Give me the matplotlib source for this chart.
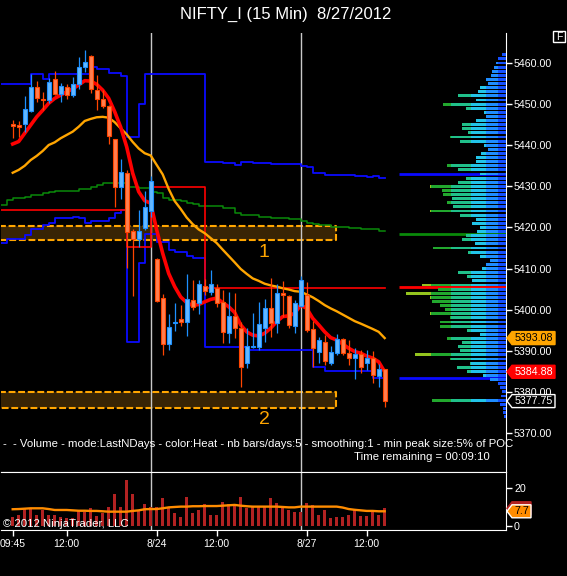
import numpy as np
import matplotlib.pyplot as plt
from matplotlib.patches import Polygon, Rectangle
from matplotlib.transforms import IdentityTransform

# Arial-like font for the NinjaTrader look
plt.rcParams['font.family'] = ['Liberation Sans', 'DejaVu Sans']

# ---------------- data (15 min bars, 8/23 09:45 -> 8/27 12:45) ----------------
opens = [5445.1, 5444.8, 5445.1, 5448.4, 5454.1, 5451.2, 5450.9, 5456.0, 5452.5, 5454.1,
         5452.1, 5454.8, 5459.0, 5461.6, 5453.4, 5451.2, 5449.5, 5441.4, 5429.9, 5433.2,
         5419.1, 5417.2, 5419.8, 5424.1, 5412.3, 5402.8, 5391.6, 5396.7, 5397.7, 5397.1,
         5402.3, 5401.6, 5405.8, 5404.4, 5405.2, 5401.8, 5394.25, 5398.5, 5395.5, 5386.95,
         5390.9, 5391.0, 5395.5, 5400.3, 5396.8, 5404.0, 5403.3, 5396.1, 5400.96, 5403.6,
         5395.2, 5389.8, 5392.2, 5387.1, 5389.5, 5392.9, 5389.4, 5388.2, 5389.2, 5386.95,
         5388.2, 5383.9, 5385.5]
highs = [5446.1, 5445.9, 5452.0, 5457.3, 5455.6, 5453.0, 5456.3, 5458.1, 5455.2, 5454.8,
         5456.5, 5461.4, 5463.2, 5461.9, 5457.1, 5453.4, 5449.8, 5441.5, 5436.7, 5434.0,
         5419.5, 5424.2, 5428.9, 5432.6, 5412.5, 5403.8, 5398.9, 5401.6, 5401.1, 5408.7,
         5407.2, 5407.2, 5407.5, 5409.65, 5406.2, 5404.8, 5404.2, 5404.1, 5397.1, 5395.5,
         5399.1, 5401.9, 5402.6, 5407.6, 5406.2, 5407.0, 5403.5, 5402.35, 5408.2, 5406.8,
         5397.3, 5393.4, 5393.8, 5391.2, 5394.0, 5393.0, 5392.6, 5390.6, 5390.2, 5390.2,
         5389.95, 5386.7, 5385.5]
lows = [5441.8, 5442.0, 5443.3, 5448.2, 5450.4, 5448.6, 5450.2, 5452.2, 5450.4, 5451.2,
        5451.7, 5453.7, 5457.9, 5452.6, 5448.6, 5449.0, 5440.4, 5425.0, 5426.9, 5410.1,
        5403.2, 5415.3, 5419.4, 5422.6, 5401.9, 5389.0, 5390.2, 5394.9, 5395.9, 5393.7,
        5399.9, 5398.9, 5403.6, 5403.6, 5400.7, 5392.0, 5392.0, 5393.0, 5381.3, 5385.7,
        5390.6, 5390.2, 5392.2, 5393.4, 5394.25, 5398.3, 5395.5, 5394.25, 5400.7, 5394.6,
        5386.1, 5387.0, 5386.5, 5386.5, 5389.0, 5389.0, 5386.5, 5383.1, 5384.7, 5385.3,
        5382.1, 5381.3, 5376.4]
closes = [5444.6, 5444.5, 5448.8, 5454.2, 5451.4, 5451.0, 5455.3, 5452.5, 5454.3, 5452.1,
          5454.8, 5459.0, 5460.2, 5453.6, 5451.2, 5449.5, 5442.2, 5429.9, 5433.4, 5419.0,
          5417.2, 5419.1, 5424.9, 5431.3, 5402.2, 5391.6, 5395.7, 5397.0, 5397.1, 5402.5,
          5400.7, 5406.2, 5404.6, 5406.2, 5401.7, 5394.6, 5398.5, 5395.6, 5386.1, 5391.2,
          5391.1, 5396.4, 5400.3, 5396.8, 5404.0, 5403.5, 5396.3, 5401.55, 5407.2, 5395.05,
          5390.6, 5392.6, 5387.6, 5389.8, 5392.9, 5389.4, 5388.2, 5389.2, 5386.1, 5388.2,
          5384.1, 5385.6, 5377.75]
volumes = [4.5, 5.7, 8.9, 9.6, 5.7, 8.4, 5.7, 5.7, 4.5, 4.0,
           4.0, 8.0, 7.5, 9.3, 5.2, 7.0, 10.2, 17.0, 9.8, 24.4,
           17.0, 8.4, 11.6, 9.8, 9.8, 14.7, 10.2, 7.0, 4.5, 15.2,
           7.0, 8.4, 11.6, 5.7, 5.7, 12.8, 11.6, 10.5, 15.2, 9.3,
           10.5, 10.5, 10.5, 14.7, 12.3, 9.3, 8.4, 7.5, 7.5, 12.0,
           11.1, 5.7, 8.4, 4.0, 4.5, 4.5, 5.7, 8.4, 5.2, 5.2,
           8.0, 5.7, 9.3]
vol_ma = [8.8, 8.9, 9.1, 9.3, 9.3, 9.3, 8.9, 8.4, 8.4, 8.4,
          8.2, 8.0, 8.0, 7.9, 7.9, 7.7, 7.5, 7.5, 7.5, 7.5,
          7.9, 8.2, 8.8, 8.9, 8.9, 9.3, 9.8, 10.0, 10.2, 10.2,
          10.4, 10.4, 10.5, 10.5, 10.5, 10.7, 10.9, 11.1, 10.7, 10.4,
          10.2, 10.2, 10.2, 10.2, 10.2, 10.0, 9.8, 9.8, 10.2, 10.2,
          10.2, 10.2, 10.2, 10.2, 10.2, 9.7, 8.9, 8.5, 8.2, 7.9,
          7.9, 7.7, 7.7]

# moving averages
ema_fast = [5440.3, 5440.9, 5442.9, 5444.9, 5446.9, 5448.5, 5450.2, 5451.4, 5452.2, 5453.0,
            5453.7, 5454.65, 5455.7, 5455.6, 5454.8, 5453.4, 5451.4, 5448.15, 5444.4, 5439.6,
            5433.2, 5428.7, 5426.5, 5425.9, 5419.4, 5413.7, 5408.8, 5405.6, 5403.1, 5401.7,
            5401.0, 5401.25, 5401.9, 5402.5, 5402.8, 5401.7, 5400.7, 5399.3, 5396.3, 5394.6,
            5393.8, 5393.6, 5394.25, 5395.5, 5397.1, 5398.3, 5398.5, 5399.1, 5401.1, 5400.3,
            5397.9, 5396.3, 5394.6, 5393.2, 5392.6, 5391.65, 5390.6, 5389.8, 5389.4, 5388.7,
            5388.2, 5387.3, 5384.88]
ma_slow = [5433.3, 5434.0, 5435.0, 5436.4, 5437.4, 5438.6, 5440.05, 5440.7, 5441.7, 5442.5,
           5443.3, 5444.5, 5445.9, 5446.4, 5446.8, 5446.9, 5446.7, 5445.6, 5444.1, 5442.65,
           5440.8, 5439.2, 5438.05, 5437.5, 5435.2, 5432.9, 5429.35, 5426.4, 5424.5, 5422.4,
           5420.8, 5419.5, 5418.6, 5417.4, 5416.2, 5414.6, 5413.05, 5411.5, 5409.9, 5408.7,
           5407.6, 5407.0, 5406.3, 5405.9, 5405.6, 5405.2, 5404.9, 5404.5, 5404.35, 5403.7,
           5403.0, 5402.1, 5401.1, 5400.3, 5399.6, 5398.8, 5398.0, 5397.2, 5396.6, 5395.95,
           5395.3, 5394.6, 5393.08]

# step lines: (level, number of bars), starting 3 bars before the first visible bar
upper_levels = [5454.8, 5457.25, 5456.0, 5457.25, 5459.1, 5458.5, 5457.5, 5456.8, 5441.9, 5450.0,
                5457.3, 5435.85, 5435.6, 5435.3, 5436.0, 5435.75, 5435.5, 5435.35, 5435.0, 5434.7,
                5433.2, 5432.8, 5432.7, 5432.4, 5432.3, 5432.5, 5432.0]
upper_counts = [6, 2, 1, 7, 1, 2, 2, 1, 2, 1, 10, 3, 2, 1, 2, 3, 2, 3, 1, 1, 2, 1, 4, 2, 1, 1, 2]
lower_levels = [5416.1, 5417.1, 5418.2, 5419.55, 5420.6, 5421.15, 5422.2, 5422.5, 5422.2, 5421.15,
                5421.6, 5422.2, 5423.4, 5424.2, 5392.1, 5411.3, 5418.3, 5416.5, 5414.5, 5414.1,
                5413.05, 5412.5, 5390.85, 5390.2, 5386.1, 5385.1, 5383.3]
lower_counts = [2, 3, 1, 2, 1, 1, 3, 1, 1, 1, 3, 1, 1, 1, 2, 1, 2, 2, 1, 2, 1, 2, 7, 11, 2, 8, 3]
green_levels = [5425.5, 5426.7, 5427.1, 5427.5, 5427.9, 5428.3, 5428.55, 5428.9, 5429.3, 5429.9,
                5430.3, 5430.7, 5430.9, 5430.7, 5429.9, 5429.5, 5428.7, 5428.3, 5427.1, 5426.7,
                5426.4, 5425.9, 5425.6, 5425.3, 5424.65, 5423.4, 5423.0, 5422.6, 5422.2, 5422.0,
                5421.6, 5421.15, 5420.8, 5420.6, 5420.2, 5419.9, 5419.6, 5419.1]
green_counts = [2, 1, 2, 1, 2, 1, 1, 4, 2, 1, 1, 1, 2, 1, 2, 2, 1, 1, 1, 2,
                1, 1, 1, 4, 2, 1, 3, 2, 3, 2, 1, 1, 1, 2, 3, 2, 3, 2]
red_levels = [5424.2, 5415.3, 5429.9, 5405.2]
red_counts = [22, 4, 9, 31]

# volume profile (last 5 days), 1 point levels
profile_prices = np.arange(5374, 5463)
profile_vol = [2, 3, 3, 6, 74, 5, 4, 6, 8, 16,
               23, 39, 49, 36, 56, 91, 46, 48, 44, 59,
               26, 39, 66, 66, 56, 76, 61, 66, 74, 76,
               100, 68, 84, 34, 39, 48, 24, 20, 16, 26,
               38, 73, 31, 44, 40, 29, 26, 34, 30, 46,
               76, 53, 59, 54, 63, 64, 76, 48, 40, 26,
               48, 59, 30, 30, 25, 18, 22, 46, 56, 38,
               44, 44, 30, 20, 22, 40, 63, 30, 48, 28,
               26, 18, 20, 15, 14, 12, 10, 8, 4]
peak_prices = [5433.0, 5418.4, 5405.5, 5383.4]
peak_colors = ['#0a0aff', '#0a8a0a', '#ff0000', '#0a0aff']

# drawn zones
zone_low = [5416.95, 5376.15]
zone_high = [5420.35, 5380.0]
zone_names = ['1', '2']
zone_label_price = [5413.9, 5373.3]

tick_bars = [0, 9, 24, 34, 49, 59]
tick_labels = ['09:45', '12:00', '8/24', '12:00', '8/27', '12:00']
session_breaks = [23, 48]

opens, highs, lows, closes = map(np.array, (opens, highs, lows, closes))
n = len(opens)
x = np.arange(n)
xs = np.arange(-3, n)

# ---------------- figure ----------------
W, H = 567, 576
fig = plt.figure(figsize=(W / 100, H / 100), dpi=100, facecolor='black')


def fx(px):
    return px / W


def fy(py):
    return 1 - py / H


ax = fig.add_axes([fx(1), fy(472), fx(506) - fx(1), fy(33) - fy(472)], facecolor='black')
axv = fig.add_axes([fx(1), fy(530), fx(506) - fx(1), fy(472) - fy(530)], facecolor='black', sharex=ax)
axp = fig.add_axes([fx(1), fy(472), fx(506) - fx(1), fy(33) - fy(472)])
axp.set_zorder(ax.get_zorder() + 1)
axp.patch.set_visible(False)

ax.set_xlim(-1.95, 82.22)
ax.set_ylim(5360.5, 5467.3)
axv.set_ylim(-2.3, 28.7)

# zones
for lo, hi, name, lp in zip(zone_low, zone_high, zone_names, zone_label_price):
    ax.add_patch(Rectangle((-4, lo), 57.83, hi - lo, facecolor='#382405', edgecolor='none', zorder=1))
    ax.plot([-4, 53.83, 53.83, -4], [hi, hi, lo, lo], color='#ffa500', lw=1.5,
            dashes=(3.3, 1.3), zorder=2)
    ax.text(41.9, lp, name, color='#ffa500', fontsize=14, ha='center', va='center', zorder=2)

# session breaks
for b in session_breaks:
    ax.axvline(b, color='#c8c8c8', lw=1, zorder=2)
    axv.axvline(b, color='#c8c8c8', lw=1, zorder=2)

# step indicators
ax.step(xs, np.repeat(green_levels, green_counts), where='post', color='#0a8a0a', lw=1.1, zorder=3)
ax.step(xs, np.repeat(upper_levels, upper_counts), where='post', color='#0a0aff', lw=1.3, zorder=3)
ax.step(xs, np.repeat(lower_levels, lower_counts), where='post', color='#0a0aff', lw=1.3, zorder=3)
ax.step(xs, np.repeat(red_levels, red_counts), where='post', color='#ff0000', lw=1.2, zorder=3)

# moving averages
ax.plot(x, ma_slow, color='#ffa500', lw=1.7, zorder=4)
ax.plot(x, ema_fast, color='#ff0000', lw=2.6, zorder=5)

# candles
up = closes >= opens
body_lo = np.minimum(opens, closes)
body_h = np.maximum(np.abs(closes - opens), 0.3)
ax.vlines(x[up], lows[up], highs[up], color='#1e90ff', lw=0.9, zorder=6)
ax.vlines(x[~up], lows[~up], highs[~up], color='#ff4500', lw=0.9, zorder=6)
ax.bar(x[up], body_h[up], bottom=body_lo[up], width=0.68, color='#63b8ff',
       edgecolor='#1e90ff', lw=0.8, zorder=7)
ax.bar(x[~up], body_h[~up], bottom=body_lo[~up], width=0.68, color='#ff7f50',
       edgecolor='#ff4500', lw=0.8, zorder=7)

# volume profile on the right side
axp.set_xlim(505, 0)
axp.set_ylim(ax.get_ylim())
axp.axis('off')
axp.hlines(peak_prices, 0, 107, colors=peak_colors, lw=2, zorder=1)
bands = [0, 8, 20, 35, 55, 75, 1000]
band_colors = ['#1450ff', '#1e8cff', '#22c4e8', '#20c08a', '#22a82e', '#94c41e']
prof = np.array(profile_vol, dtype=float)
for k in range(len(bands) - 1):
    seg = np.clip(prof - bands[k], 0, bands[k + 1] - bands[k])
    axp.barh(profile_prices, seg, left=bands[k], height=0.7, color=band_colors[k],
             lw=0, zorder=2)

# volume panel
axv.bar(x, volumes, width=0.5, color='#b22222', zorder=3)
axv.plot(x, vol_ma, color='#ff8c00', lw=1.7, zorder=4)

# axes styling
for a in (ax, axv):
    for s in a.spines.values():
        s.set_visible(False)
    a.spines['right'].set_visible(True)
    a.spines['right'].set_color('white')
    a.spines['bottom'].set_visible(True)
    a.spines['bottom'].set_color('white')
    a.yaxis.tick_right()
    a.tick_params(axis='y', colors='white', labelcolor='white', length=4.3, width=1,
                  labelsize=7.7, pad=1.5)
axv.spines['top'].set_visible(True)
axv.spines['top'].set_color('white')

price_ticks = np.arange(5370, 5461, 10)
ax.set_yticks(price_ticks)
ax.set_yticklabels(['%.2f' % p for p in price_ticks])
ax.tick_params(axis='x', bottom=False, labelbottom=False)
axv.set_yticks([0, 20])
axv.set_yticklabels(['0', '20'])
axv.set_xticks(tick_bars)
axv.set_xticklabels(tick_labels)
axv.tick_params(axis='x', colors='white', labelcolor='white', length=4.3, width=1,
                labelsize=7.5, pad=2)


# value markers on the price scale
def marker(a, value, text, fc, tc, ec, x0=507, x1=555):
    yd = a.transData.transform((0, value))[1]
    pts = [(x0, yd), (x0 + 5, yd + 6.5), (x1, yd + 6.5), (x1, yd - 6.5), (x0 + 5, yd - 6.5)]
    fig.add_artist(Polygon(pts, closed=True, facecolor=fc, edgecolor=ec, lw=1,
                           transform=IdentityTransform(), zorder=10))
    fig.text((x0 + 5 + x1) / 2 / W, yd / H, text, color=tc, fontsize=7.7,
             ha='center', va='center', zorder=11)


marker(ax, ma_slow[-1], '%.2f' % ma_slow[-1], '#ffa500', 'black', '#ffa500')
marker(ax, ema_fast[-1], '%.2f' % ema_fast[-1], '#ff0000', 'white', '#ff0000')
marker(ax, closes[-1], '%.2f' % closes[-1], 'black', 'white', 'white')
marker(axv, volumes[-1], '', '#b22222', 'white', '#b22222', x1=531)
marker(axv, vol_ma[-1], '%.1f' % vol_ma[-1], '#ff8c00', 'black', 'white', x1=531)

# 'F' box
fig.add_artist(Rectangle((553, H - 42), 12, 11, facecolor='black', edgecolor='white', lw=1,
                         transform=IdentityTransform(), zorder=10))
fig.text(559 / W, fy(36.5), 'F', color='white', fontsize=7.5, ha='center', va='center',
         zorder=12)

# texts
fig.text(fx(286), fy(14), 'NIFTY_I (15 Min)  8/27/2012', color='white', fontsize=12,
         ha='center', va='center')
fig.text(fx(3), fy(444), '-  - Volume - mode:LastNDays - color:Heat - nb bars/days:5 - '
         'smoothing:1 - min peak size:5% of POC', color='white', fontsize=8.2,
         ha='left', va='center')
fig.text(fx(490), fy(457), 'Time remaining = 00:09:10', color='white', fontsize=8.2,
         ha='right', va='center')
fig.text(fx(3), fy(524), '\u00a9 2012 NinjaTrader, LLC', color='white', fontsize=8.2,
         ha='left', va='center', zorder=12)

fig.savefig('out.png', dpi=100, facecolor='black')
